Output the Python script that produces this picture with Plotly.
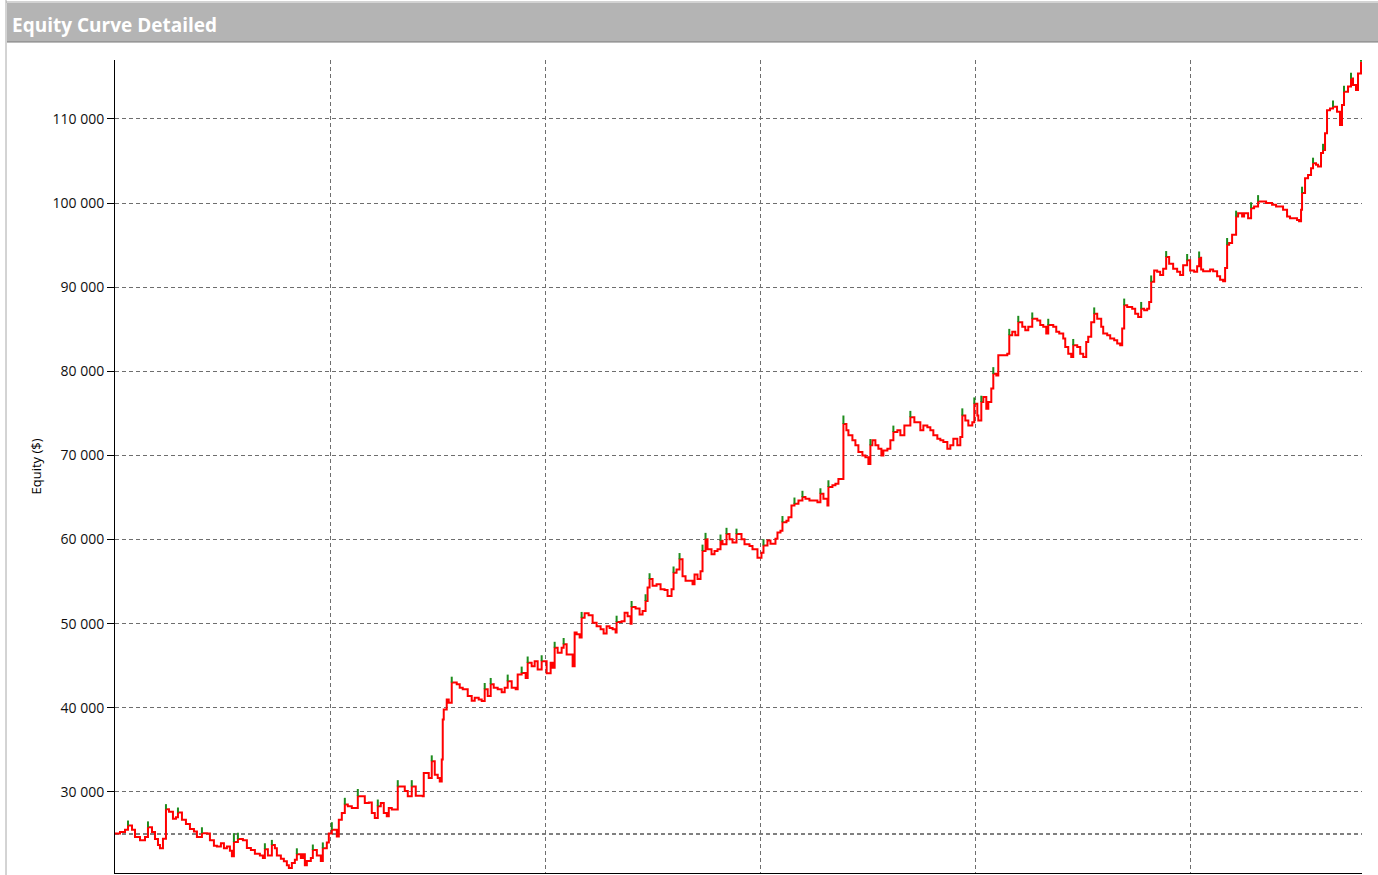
import plotly.graph_objects as go

# ---------------- data ----------------
bars = [0, 5, 10, 13, 17, 20, 25, 30, 33, 37, 40, 43, 45, 48, 51, 54, 58, 61, 63, 67,
        71, 75, 79, 82, 87, 92, 95, 99, 102, 106, 109, 112, 115, 117, 119, 123, 128, 132, 136, 140,
        145, 148, 150, 153, 157, 160, 162, 166, 169, 172, 174, 177, 180, 182, 186, 188, 190, 192, 196, 198,
        202, 206, 208, 212, 214, 217, 222, 224, 227, 230, 233, 237, 240, 243, 247, 250, 254, 257, 260, 263,
        266, 269, 272, 274, 277, 280, 283, 286, 290, 293, 297, 301, 305, 308, 309, 312, 314, 317, 320, 323,
        325, 327, 328, 329, 332, 334, 337, 342, 345, 348, 353, 357, 360, 364, 367, 370, 373, 376, 379, 383,
        387, 390, 393, 397, 401, 403, 407, 411, 413, 417, 420, 423, 427, 432, 436, 438, 440, 443, 447, 449,
        452, 456, 458, 460, 462, 465, 467, 470, 474, 478, 482, 486, 489, 492, 495, 498, 501, 502, 507, 510,
        513, 516, 517, 521, 525, 528, 531, 533, 535, 538, 542, 546, 550, 553, 557, 559, 562, 565, 568, 571,
        575, 578, 580, 583, 586, 588, 591, 593, 597, 600, 603, 606, 608, 612, 615, 618, 622, 627, 630, 635,
        638, 643, 647, 649, 653, 656, 661, 663, 666, 668, 672, 674, 677, 680, 684, 688, 691, 695, 699, 703,
        706, 709, 713, 714, 718, 721, 724, 728, 729, 732, 734, 738, 741, 744, 748, 751, 754, 756, 758, 761,
        764, 767, 769, 773, 776, 779, 783, 786, 790, 794, 796, 800, 804, 806, 809, 813, 816, 819, 823, 826,
        829, 833, 836, 839, 843, 846, 848, 851, 854, 858, 860, 863, 864, 867, 869, 872, 874, 877, 879, 882,
        884, 888, 893, 895, 898, 901, 904, 908, 911, 914, 918, 923, 926, 929, 932, 934, 939, 942, 945, 949,
        951, 954, 957, 959, 963, 966, 969, 972, 974, 977, 980, 983, 987, 989, 993, 996, 1000, 1003, 1006, 1008,
        1010, 1013, 1018, 1021, 1024, 1027, 1030, 1033, 1035, 1037, 1040, 1043, 1046, 1049, 1052, 1055, 1059, 1063, 1066, 1069,
        1073, 1076, 1080, 1083, 1085, 1087, 1089, 1093, 1096, 1099, 1103, 1106, 1109, 1111, 1113, 1115, 1118, 1120, 1122, 1124,
        1128, 1130, 1134, 1137, 1140, 1144, 1148, 1152, 1155, 1158, 1162, 1166, 1169, 1173, 1176, 1179, 1183, 1185, 1187, 1188,
        1191, 1194, 1197, 1199, 1202, 1204, 1207, 1209, 1211, 1213, 1216, 1219, 1223, 1226, 1228, 1230, 1234, 1237, 1239, 1242,
        1244, 1247]

equity = [25050, 25250, 25500, 26000, 25500, 24650, 24250, 24650, 25800, 25250, 24400, 23700, 23300, 24450, 27950, 27650, 26800, 27000, 27550, 26700,
          26200, 25600, 25300, 24650, 25100, 25050, 24250, 23600, 23500, 23900, 23300, 23500, 23000, 22350, 24050, 24400, 24250, 23350, 23100, 22650,
          22450, 22150, 23200, 22450, 23700, 23300, 22450, 22050, 21750, 21300, 20950, 21550, 21950, 22600, 22150, 22600, 21300, 21800, 22150, 23100,
          22450, 21800, 23300, 24000, 25050, 25500, 24700, 26700, 27500, 28500, 28300, 28100, 28100, 29500, 29500, 28700, 28750, 27500, 26900, 28300,
          28700, 27500, 27100, 28100, 27900, 27900, 30650, 30650, 30100, 29500, 30650, 29550, 29550, 29500, 32250, 32250, 31650, 33650, 32050, 31650,
          31250, 33850, 38600, 39800, 41000, 40600, 43000, 42800, 42400, 42200, 41400, 40850, 41200, 41000, 40800, 42200, 41400, 42800, 42400, 42200,
          41850, 42400, 43150, 42400, 42200, 43950, 44150, 43550, 45350, 44950, 45550, 44550, 45550, 44100, 45350, 44750, 47150, 46550, 47150, 47550,
          46350, 46350, 44950, 48950, 48750, 48350, 50700, 51250, 51000, 50100, 49700, 49350, 48850, 49700, 49500, 49350, 48950, 50200, 50300, 51300,
          50900, 50000, 52000, 51800, 51100, 51500, 52700, 54300, 55300, 54500, 54700, 54100, 54000, 53300, 54100, 56050, 56450, 57650, 55650, 55100,
          55100, 54700, 55850, 55300, 56250, 58650, 60050, 58850, 58250, 58650, 58850, 59850, 59450, 60650, 60050, 59650, 60650, 60050, 59450, 59250,
          58850, 57850, 58450, 59300, 59900, 59500, 60100, 60850, 61050, 62050, 62250, 62650, 64050, 64250, 64650, 65050, 64850, 64650, 64650, 64450,
          65450, 64850, 64050, 66250, 66450, 66650, 67200, 67200, 73750, 73000, 72400, 71800, 71200, 70400, 70000, 69800, 69000, 71200, 71800, 71200,
          70800, 70000, 70600, 70800, 71800, 72800, 73000, 72400, 73550, 73550, 74550, 73950, 73950, 73000, 73550, 73350, 73000, 72400, 72000, 71800,
          71600, 70800, 71200, 72000, 71200, 72200, 74750, 74150, 73550, 73950, 76150, 74750, 74150, 76350, 76950, 75550, 76350, 77950, 79700, 79500,
          81900, 81900, 82100, 84300, 84700, 84300, 85850, 85300, 84900, 85300, 86250, 86050, 85500, 85300, 84500, 85500, 85300, 84700, 84500, 83900,
          82900, 82100, 81700, 83100, 82900, 82100, 81700, 83500, 84100, 85850, 86850, 86250, 85300, 84500, 84300, 83900, 83700, 83300, 83100, 85100,
          87850, 87650, 87450, 86850, 86450, 87450, 87250, 87450, 88250, 90650, 92000, 91850, 91450, 92200, 93600, 92800, 92200, 91850, 91450, 92600,
          93200, 92000, 91850, 92500, 93500, 92100, 91900, 91900, 92100, 91900, 91300, 90900, 90700, 92300, 95050, 95250, 96250, 96250, 98400, 98800,
          98400, 98800, 98200, 99400, 99600, 100200, 100200, 100000, 100000, 99800, 99600, 99600, 99200, 98400, 98200, 98200, 98000, 97850, 99200, 101200,
          102950, 103350, 104150, 104750, 104550, 104350, 105950, 106300, 108300, 111050, 111250, 111450, 110850, 109300, 111650, 113250, 113850, 114800, 114050, 113450,
          115400, 116800]

# intra-trade highs (green tips) at selected bars
spike_bars = [13, 33, 51, 63, 87, 119, 123, 150, 157, 182, 198, 208, 217, 230, 243, 263, 283, 297, 317, 337,
              370, 376, 393, 407, 413, 427, 440, 449, 467, 502, 517, 531, 535, 559, 565, 588, 591, 606, 612, 622,
              649, 668, 680, 688, 706, 714, 729, 756, 779, 796, 848, 860, 867, 879, 895, 904, 918, 934, 959, 980,
              1010, 1027, 1037, 1052, 1073, 1085, 1113, 1122, 1137, 1144, 1188, 1199, 1209, 1219, 1230, 1237, 1247]
spike_highs = [26600, 26500, 28550, 28150, 25800, 25100, 25150, 23900, 24300, 23300, 23750, 24000, 26400, 29300, 30350, 29100, 31400, 31400, 34350, 43700,
               42950, 43550, 43950, 44900, 46100, 46250, 47850, 48300, 51400, 50950, 52700, 53500, 56000, 56800, 58400, 59400, 60800, 60600, 61400, 61300,
               60050, 62800, 65000, 65800, 66100, 67050, 74750, 71950, 73550, 75300, 75600, 76900, 77100, 80500, 85050, 86600, 87000, 86250, 83850, 87600,
               88650, 88250, 91400, 94300, 93950, 94250, 95850, 99100, 100100, 100950, 101950, 105400, 107050, 112200, 113950, 115500, 117000]

y_ticks = [30000, 40000, 50000, 60000, 70000, 80000, 90000, 100000, 110000]
initial_capital = 25000

# ---------------- figure ----------------
close_at = dict(zip(bars, equity))
sx, sy = [], []
for b, h in zip(spike_bars, spike_highs):
    sx += [b, b, None]
    sy += [close_at[b], h, None]

fig = go.Figure()
fig.add_trace(go.Scatter(x=bars, y=equity, mode="lines",
                         line=dict(color="#ff0000", width=2, shape="hv"), showlegend=False))
fig.add_trace(go.Scatter(x=sx, y=sy, mode="lines",
                         line=dict(color="#1e8c1e", width=2), hoverinfo="skip", showlegend=False))

fig.add_hline(y=initial_capital, line=dict(color="#000000", width=1, dash="4px,3px"), layer="below")

grid = dict(showgrid=True, gridcolor="#6e6e6e", gridwidth=1, griddash="4px,3px")

fig.update_layout(
    width=1378, height=875,
    margin=dict(l=115, r=16, t=60, b=2),
    paper_bgcolor="white", plot_bgcolor="white",
    separators=". ",
    font=dict(family="Open Sans, DejaVu Sans, sans-serif", size=13, color="#000000"),
    xaxis=dict(range=[0, 1248], tick0=0, dtick=215.3, showticklabels=False, ticks="",
               zeroline=False, showline=True, linecolor="#000000", linewidth=1, **grid),
    yaxis=dict(range=[20364, 117013], tickvals=y_ticks, tickformat=",d",
               ticks="outside", ticklen=7, tickcolor="#000000", tickwidth=1,
               tickfont=dict(size=14, color="#101010"),
               zeroline=False, showline=True, linecolor="#000000", linewidth=1, **grid),
    shapes=[
        # window left border strip
        dict(type="rect", xref="paper", yref="paper", x0=-115/1247, x1=-109/1247, y0=-2/813, y1=873/813,
             fillcolor="#ececec", line=dict(width=0), layer="above"),
        dict(type="line", xref="paper", yref="paper", x0=-109/1247, x1=-109/1247, y0=-2/813, y1=873/813,
             line=dict(color="#a8a8a8", width=1)),
        dict(type="line", xref="paper", yref="paper", x0=-109/1247, x1=1263/1247, y0=871/813, y1=871/813,
             line=dict(color="#a8a8a8", width=1)),
        # title bar
        dict(type="rect", xref="paper", yref="paper", x0=-108/1247, x1=1263/1247, y0=831/813, y1=870/813,
             fillcolor="#b4b4b4", line=dict(width=0), layer="above"),
        dict(type="line", xref="paper", yref="paper", x0=-108/1247, x1=1263/1247, y0=831/813, y1=831/813,
             line=dict(color="#7a7a7a", width=1)),
    ],
    annotations=[
        dict(text="<b>Equity Curve Detailed</b>", xref="paper", yref="paper",
             x=-105/1247, y=848.5/813, xanchor="left", yanchor="middle", showarrow=False,
             font=dict(family="Open Sans, DejaVu Sans, sans-serif", size=19, color="#ffffff")),
        dict(text="Equity ($)", xref="paper", yref="paper", x=-80/1247, y=0.5,
             xanchor="center", yanchor="middle", textangle=-90, showarrow=False,
             font=dict(size=13, color="#000000")),
    ],
)

fig.write_html("out.html", config={"displayModeBar": False},
               post_script="document.body.style.margin='0';document.body.style.overflow='hidden';")
